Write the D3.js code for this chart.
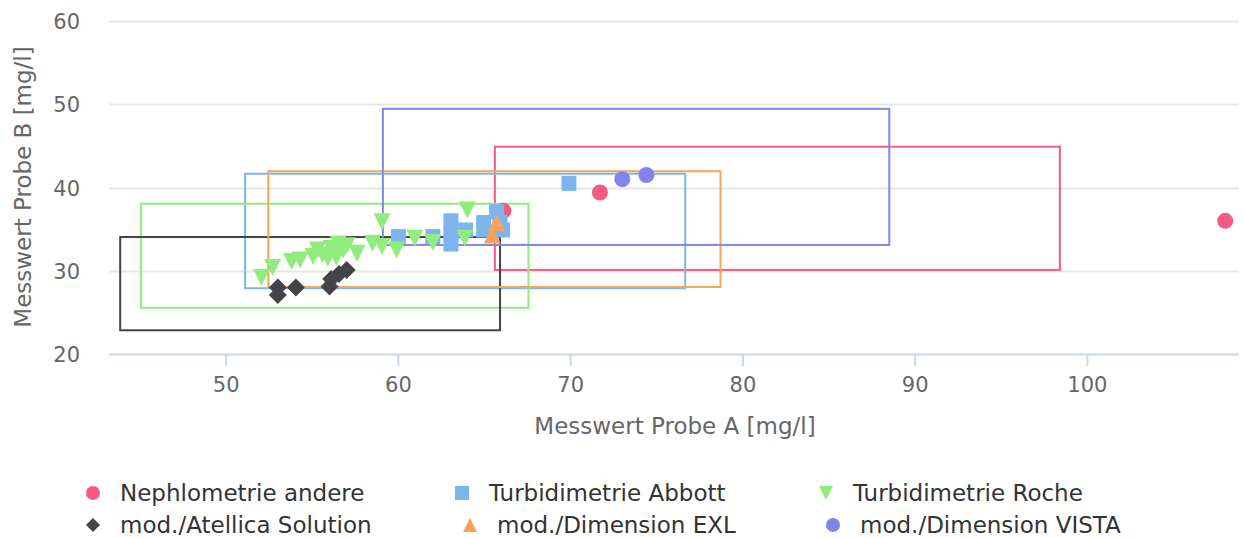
<!DOCTYPE html>
<html><head><meta charset="utf-8">
<script src="https://cdn.jsdelivr.net/npm/d3@7"></script>
<style>
html,body{margin:0;padding:0;background:#fff;}
svg{display:block;font-family:"DejaVu Sans",sans-serif;}
</style></head>
<body><svg id="c" width="1244" height="538"></svg>
<script>
// ---- data ----
const xTicks = [50, 60, 70, 80, 90, 100];
const yTicks = [20, 30, 40, 50, 60];
const seriesNames = ["Nephlometrie andere", "Turbidimetrie Abbott", "Turbidimetrie Roche",
  "mod./Atellica Solution", "mod./Dimension EXL", "mod./Dimension VISTA"];
const nephPoints = [[108, 36], [71.7, 39.4], [66.1, 37.2]];
const abbottPoints = [[60.0, 34.1], [62.0, 34.1], [63.05, 36.0], [63.05, 34.4], [63.05, 33.2],
  [63.9, 34.9], [64.95, 35.8], [64.95, 34.9], [65.7, 37.1], [65.9, 35.8], [66.05, 34.9], [69.9, 40.5]];
const rochePoints = [[52.05, 29.2], [52.7, 30.4], [53.8, 31.1], [54.3, 31.3], [55.05, 31.7],
  [55.3, 32.5], [55.6, 31.9], [55.9, 31.5], [56.1, 32.7], [56.3, 32.2], [56.4, 31.6],
  [56.5, 33.2], [56.8, 32.5], [57.0, 33.0], [57.6, 32.1], [58.5, 33.3], [59.05, 35.9],
  [59.05, 32.9], [59.9, 32.5], [60.95, 33.9], [62.0, 33.4], [63.85, 33.9], [64.0, 37.3]];
const atellicaPoints = [[53.0, 28.0], [53.0, 27.1], [54.05, 28.0], [56.0, 28.1], [56.1, 29.0],
  [56.55, 29.6], [57.0, 30.1]];
const exlPoints = [[65.7, 35.8], [65.45, 34.3]];
const vistaPoints = [[73.0, 41.0], [74.4, 41.5]];
// boxes: [xMin, xMax, yMin, yMax] per series
const nephBox = [65.6, 98.4, 30.1, 44.9];
const abbottBox = [51.1, 76.65, 27.9, 41.65];
const rocheBox = [45.05, 67.55, 25.55, 38.05];
const atellicaBox = [43.85, 65.9, 22.85, 34.05];
const exlBox = [52.45, 78.7, 28.05, 41.95];
const vistaBox = [59.1, 88.5, 33.1, 49.45];
const colors = ["#f15c80", "#7cb5ec", "#90ed7d", "#434348", "#f7a35c", "#8085e9"];
const symbols = ["circle", "square", "triangle-down", "diamond", "triangle", "circle"];

const series = [
  {name: seriesNames[0], pts: nephPoints, box: nephBox},
  {name: seriesNames[1], pts: abbottPoints, box: abbottBox},
  {name: seriesNames[2], pts: rochePoints, box: rocheBox},
  {name: seriesNames[3], pts: atellicaPoints, box: atellicaBox},
  {name: seriesNames[4], pts: exlPoints, box: exlBox},
  {name: seriesNames[5], pts: vistaPoints, box: vistaBox}
];
series.forEach((s, i) => { s.color = colors[i]; s.symbol = symbols[i]; });

// ---- chart ----
const svg = d3.select("#c");
const x = d3.scaleLinear().domain([43.2, 108.8]).range([109, 1239]);
const y = d3.scaleLinear().domain([20, 60]).range([354, 21]);

function symPath(type, r) {
  const p = d3.path();
  if (type === "circle") { p.arc(0, 0, r, 0, 2 * Math.PI); }
  else if (type === "square") { p.rect(-r, -r, 2 * r, 2 * r); }
  else if (type === "triangle") { p.moveTo(0, -r); p.lineTo(r, r); p.lineTo(-r, r); p.closePath(); }
  else if (type === "triangle-down") { p.moveTo(-r, -r); p.lineTo(r, -r); p.lineTo(0, r); p.closePath(); }
  else if (type === "diamond") { p.moveTo(0, -r); p.lineTo(r, 0); p.lineTo(0, r); p.lineTo(-r, 0); p.closePath(); }
  return p.toString();
}

// grid
svg.append("g").selectAll("line").data(yTicks.filter(d => d !== 20)).join("line")
  .attr("x1", 109).attr("x2", 1239)
  .attr("y1", d => Math.round(y(d)) + 0.5).attr("y2", d => Math.round(y(d)) + 0.5)
  .attr("stroke", "#e6e6e6").attr("stroke-width", 2);

// x axis line + ticks
svg.append("line").attr("x1", 109).attr("x2", 1239).attr("y1", 354.5).attr("y2", 354.5)
  .attr("stroke", "#ccd6eb").attr("stroke-width", 2);
svg.append("g").selectAll("line").data(xTicks).join("line")
  .attr("x1", d => x(d)).attr("x2", d => x(d)).attr("y1", 354).attr("y2", 366)
  .attr("stroke", "#ccd6eb").attr("stroke-width", 2);

// tick labels
svg.append("g").selectAll("text").data(xTicks).join("text")
  .attr("x", d => x(d)).attr("y", 392).attr("text-anchor", "middle")
  .attr("font-size", 21).attr("fill", "#666666").text(d => d);
svg.append("g").selectAll("text").data(yTicks).join("text")
  .attr("x", 80).attr("y", d => y(d) + 8).attr("text-anchor", "end")
  .attr("font-size", 21).attr("fill", "#666666").text(d => d);

// axis titles
svg.append("text").attr("x", 675).attr("y", 434).attr("text-anchor", "middle")
  .attr("font-size", 23).attr("fill", "#666666").text("Messwert Probe A [mg/l]");
svg.append("text").attr("transform", "translate(31,187) rotate(-90)").attr("text-anchor", "middle")
  .attr("font-size", 23).attr("fill", "#666666").text("Messwert Probe B [mg/l]");

// boxes
svg.append("g").selectAll("rect").data(series).join("rect")
  .attr("x", d => x(d.box[0])).attr("y", d => y(d.box[3]))
  .attr("width", d => x(d.box[1]) - x(d.box[0])).attr("height", d => y(d.box[2]) - y(d.box[3]))
  .attr("fill", "none").attr("stroke", d => d.color).attr("stroke-width", 2);

// points
const sizes = {"circle": 8, "square": 7.5, "triangle": 8.5, "triangle-down": 8.5, "diamond": 9};
series.forEach(s => {
  svg.append("g").selectAll("path").data(s.pts).join("path")
    .attr("transform", d => `translate(${x(d[0])},${y(d[1])})`)
    .attr("d", symPath(s.symbol, sizes[s.symbol]))
    .attr("fill", s.color);
});

// legend
const legPos = [[93, 493], [462, 493], [826, 493], [93, 525], [470, 525], [833, 525]];
const lg = svg.append("g").selectAll("g").data(series).join("g")
  .attr("transform", (d, i) => `translate(${legPos[i][0]},${legPos[i][1]})`);
lg.append("path").attr("d", d => symPath(d.symbol, 7)).attr("fill", d => d.color);
lg.append("text").attr("x", 27).attr("y", 8).attr("font-size", 23).attr("fill", "#333333").text(d => d.name);
</script></body></html>
